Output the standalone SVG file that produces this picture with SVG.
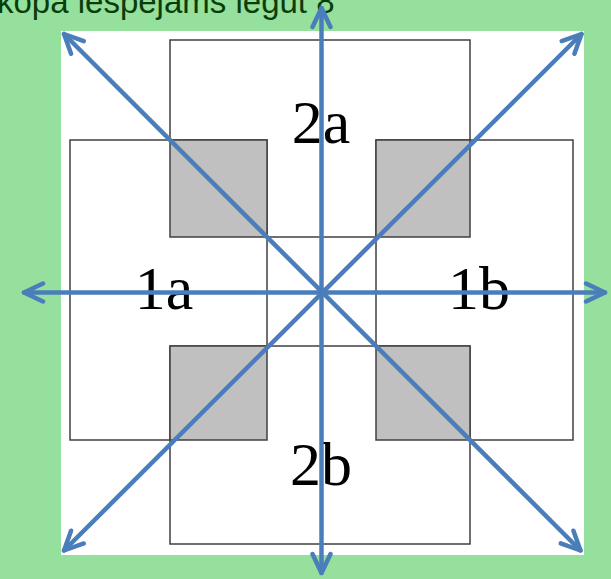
<svg xmlns="http://www.w3.org/2000/svg" width="611" height="579" viewBox="0 0 611 579">
<style>
.box{fill:#ffffff;stroke:#404040;stroke-width:1.5}
.sq{fill:#c0c0c0;stroke:#404040;stroke-width:1.5}
.lbl{font-family:"Liberation Serif","Times New Roman",serif;font-size:62px;fill:#000;text-anchor:middle}
.arr{stroke:#4a7ebb;stroke-width:4.5;fill:none;stroke-linecap:round;marker-start:url(#ah);marker-end:url(#ah)}
</style>
<defs>
<marker id="ah" markerUnits="userSpaceOnUse" orient="auto-start-reverse" viewBox="-25 -12 30 24" markerWidth="30" markerHeight="24" refX="0" refY="0">
<path d="M-19 -9 L0 0 L-19 9" fill="none" stroke="#4a7ebb" stroke-width="4.5" stroke-linecap="round" stroke-linejoin="round"/>
</marker>
</defs>
<rect x="0" y="0" width="611" height="579" fill="#94e09c"/>
<text x="-3" y="13" font-family="'Liberation Sans',Arial,sans-serif" font-size="33" fill="#0b3d0b">kopā iespējams iegūt 8</text>
<rect x="61" y="31" width="523" height="524" fill="#ffffff"/>
<g id="box-2a"><rect class="box" x="170" y="40" width="300" height="197"/><text class="lbl" x="321" y="143">2a</text></g>
<g id="box-1a"><rect class="box" x="70" y="140" width="197" height="300"/><text class="lbl" x="164" y="309">1a</text></g>
<g id="box-1b"><rect class="box" x="376" y="140" width="197" height="300"/><text class="lbl" x="479" y="309">1b</text></g>
<g id="box-2b"><rect class="box" x="170" y="346" width="300" height="198"/><text class="lbl" x="321" y="485">2b</text></g>
<g id="overlaps">
<rect class="sq" x="170" y="140" width="97" height="97"/>
<rect class="sq" x="376" y="140" width="94" height="97"/>
<rect class="sq" x="170" y="346" width="97" height="94"/>
<rect class="sq" x="376" y="346" width="94" height="94"/>
</g>
<g id="connectors">
<line class="arr" x1="321.5" y1="573" x2="321.5" y2="8"/>
<line class="arr" x1="24" y1="292.5" x2="605" y2="292.5"/>
<line class="arr" x1="64" y1="34" x2="580.5" y2="550.5"/>
<line class="arr" x1="581.5" y1="34" x2="64" y2="550.5"/>
</g>
</svg>
